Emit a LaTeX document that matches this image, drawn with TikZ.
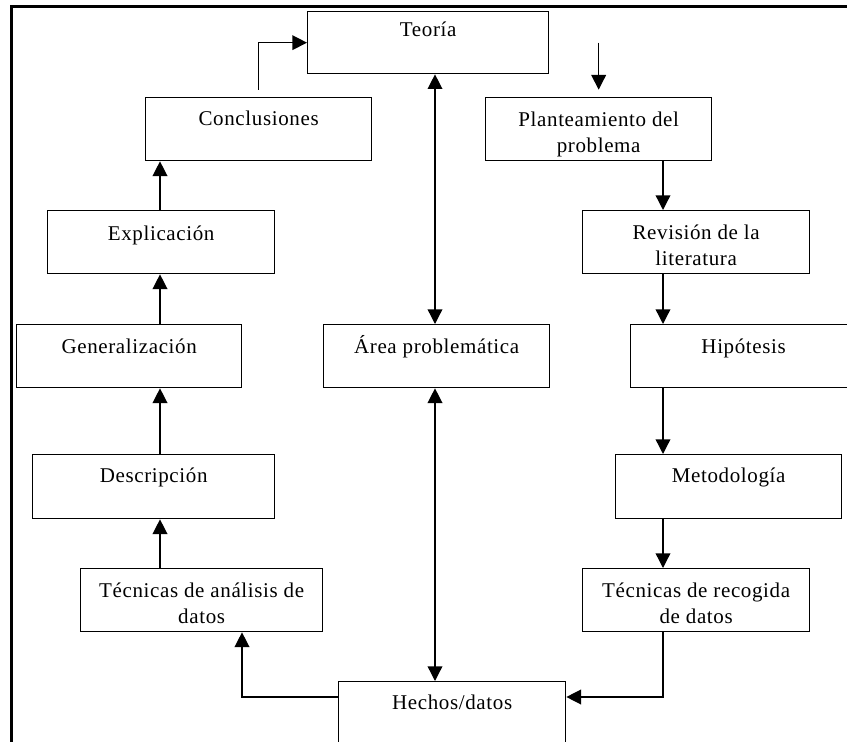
\documentclass[tikz,border=0pt]{standalone}
\usepackage{fontspec}
\setmainfont{Liberation Serif}[LetterSpace=3]
\usetikzlibrary{arrows.meta}
\newcommand\mkbox[7]{%
  \node[box, minimum width={#4*0.75pt}, minimum height={#5*0.75pt}] (#1) at (#2,#3) {};
  \node[txt] (#1t) at ([yshift={-#6*0.75pt}]#1.north) {#7};}
\begin{document}
\begin{tikzpicture}[x=0.75pt, y=-0.75pt,
  box/.style={draw, line width=1pt, anchor=north west, inner sep=0pt},
  txt/.style={anchor=base, inner sep=0pt, align=center, font=\fontsize{15.75pt}{19.5pt}\selectfont},
  arr/.style={line width=1pt, -{Triangle[length=11pt,width=11pt]}},
  darr/.style={line width=1pt, {Triangle[length=11pt,width=11pt]}-{Triangle[length=11pt,width=11pt]}}]
\useasboundingbox (0,0) rectangle (847,742);
\clip (0,0) rectangle (847,742);
% frame
\coordinate (f1) at (847,7);
\coordinate (f2) at (11,7);
\coordinate (f3) at (11,742);
\draw[line width=2.25pt, line join=miter] (f1) -- (f2) -- (f3);
% boxes
\mkbox{teoria}{307}{11}{241}{62}{26}{Teoría}
\mkbox{concl}{145}{97}{226}{63}{29}{Conclusiones}
\mkbox{plant}{485}{97}{226}{63}{55}{Planteamiento del\\problema}
\mkbox{expl}{47}{210}{227}{63}{30}{Explicación}
\mkbox{rev}{582}{210}{227}{63}{55}{Revisión de la\\literatura}
\mkbox{gen}{16}{324}{225}{63}{29}{Generalización}
\mkbox{area}{323}{324}{226}{63}{29}{Área problemática}
\mkbox{hip}{630}{324}{226}{63}{29}{Hipótesis}
\mkbox{desc}{32}{454}{242}{64}{28}{Descripción}
\mkbox{met}{615}{454}{226}{64}{28}{Metodología}
\mkbox{tan}{80}{568}{242}{63}{55}{Técnicas de análisis de\\datos}
\mkbox{trec}{582}{568}{227}{63}{55}{Técnicas de recogida\\de datos}
\mkbox{hech}{338}{681}{227}{63}{28}{Hechos/datos}
% helper coordinates
\coordinate (lx) at (160,0);
\coordinate (rx) at (663,0);
\coordinate (mx) at (435,0);
\coordinate (ax) at (242,0);
\coordinate (top) at (plant.north |- teoria.west);
\coordinate (hy) at ([yshift=-12pt]hech.north);
% connectors
\draw[arr, shorten <=5.25pt] (concl.north) |- (teoria.west);
\draw[arr, shorten >=5.5pt] (top) -- (plant.north);
\draw[darr] (mx |- teoria.south) -- (mx |- area.north);
\draw[darr] (mx |- area.south) -- (mx |- hech.north);
\draw[arr] (lx |- tan.north) -- (lx |- desc.south);
\draw[arr] (lx |- desc.north) -- (lx |- gen.south);
\draw[arr] (lx |- gen.north) -- (lx |- expl.south);
\draw[arr] (lx |- expl.north) -- (lx |- concl.south);
\draw[arr] (rx |- plant.south) -- (rx |- rev.north);
\draw[arr] (rx |- rev.south) -- (rx |- hip.north);
\draw[arr] (rx |- hip.south) -- (rx |- met.north);
\draw[arr] (rx |- met.south) -- (rx |- trec.north);
\draw[arr] (rx |- trec.south) |- (hech.east |- hy);
\draw[arr] (hech.west |- hy) -| (ax |- tan.south);
\end{tikzpicture}
\end{document}
